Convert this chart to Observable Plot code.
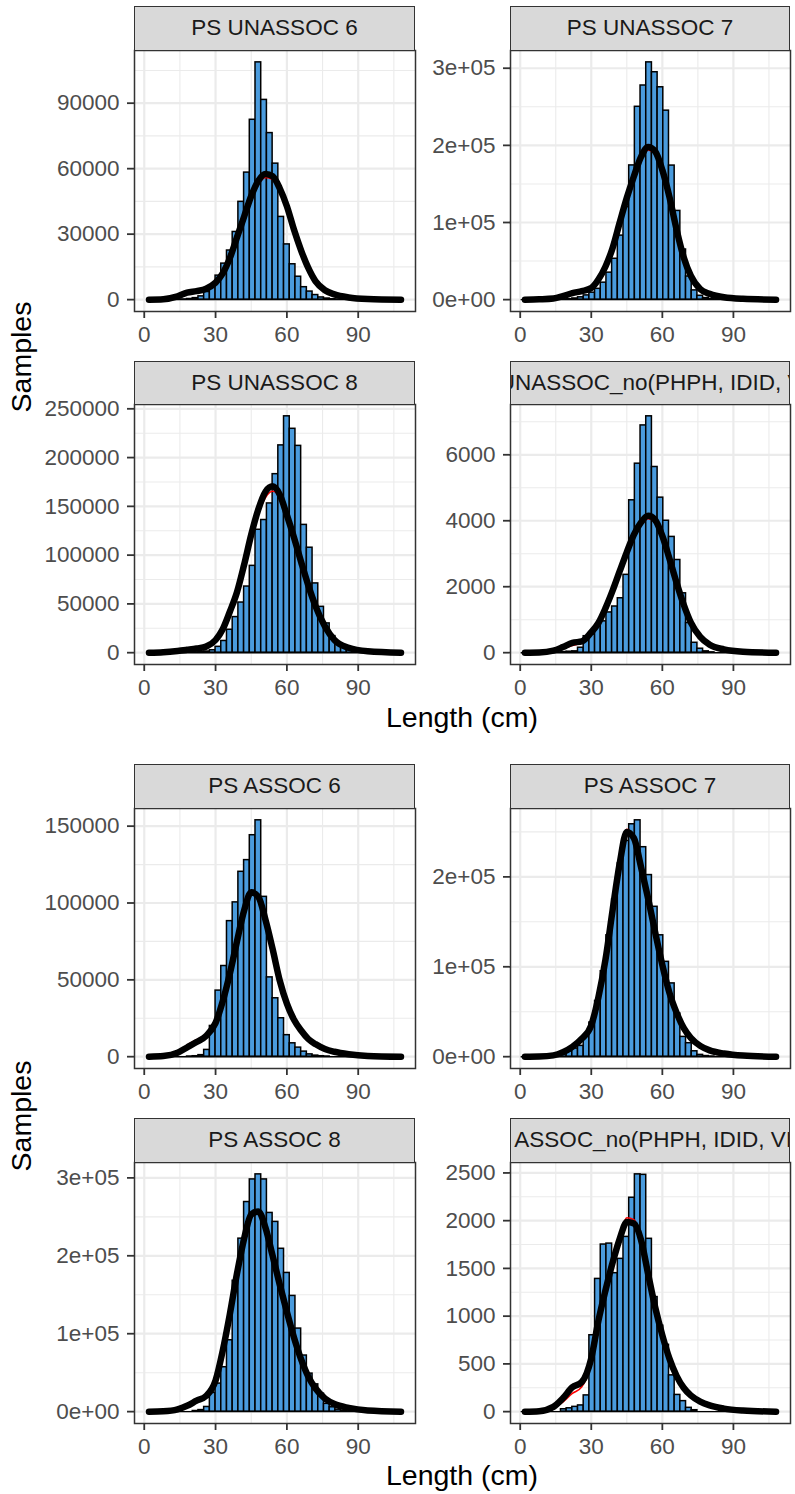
<!DOCTYPE html>
<html><head><meta charset="utf-8">
<script src="https://cdn.jsdelivr.net/npm/d3@7"></script>
<script src="https://cdn.jsdelivr.net/npm/@observablehq/plot@0.6"></script>
<style>
body{margin:0;background:#fff;}
#chart{position:relative;width:795px;height:1494px;background:#fff;font-family:'Liberation Sans',Arial,Helvetica,sans-serif;overflow:hidden}
.strip{position:absolute;box-sizing:border-box;background:#D9D9D9;border:1.5px solid #333;display:flex;align-items:center;justify-content:center;overflow:hidden;white-space:nowrap;font-size:22.5px;color:#1A1A1A}
.strip span{flex-shrink:0}
.title{position:absolute;font-size:28.5px;color:#000;white-space:nowrap;line-height:1}
</style></head><body><div id="chart"></div>
<script>
// ---------- data ----------
const stripNames = ["PS UNASSOC 6", "PS UNASSOC 7", "PS UNASSOC 8", "PS UNASSOC_no(PHPH, IDID, VIVI)",
                    "PS ASSOC 6", "PS ASSOC 7", "PS ASSOC 8", "PS ASSOC_no(PHPH, IDID, VIVI)"];
const binWidth = 2.4;
const binsLeft = [16.8, 19.2, 21.6, 24.0, 26.4, 28.8, 31.2, 33.6, 36.0, 38.4, 40.8, 43.2, 45.6, 48.0, 50.4, 52.8,
                  55.2, 57.6, 60.0, 62.4, 64.8, 67.2, 69.6, 72.0, 74.4, 76.8, 79.2, 81.6, 84.0, 86.4, 88.8, 91.2];
const binsRight = [16.0, 18.4, 20.8, 23.2, 25.6, 28.0, 30.4, 32.8, 35.2, 37.6, 40.0, 42.4, 44.8, 47.2, 49.6, 52.0,
                   54.4, 56.8, 59.2, 61.6, 64.0, 66.4, 68.8, 71.2, 73.6, 76.0, 78.4, 80.8, 83.2, 85.6, 88.0, 90.4];
const zeroSpanLeft = [1.2, 109.2];
const zeroSpanRight = [0.4, 108.4];

const countsU6 = [100, 300, 700, 1500, 3500, 6000, 11000, 16500, 22500, 31000, 44800, 58200, 82400, 108700, 91500, 76300,
                  62300, 37900, 25300, 16200, 10500, 5700, 3700, 2100, 1000, 500, 200, 100, 0, 0, 0, 0];
const countsU7 = [0, 200, 600, 1500, 3000, 5500, 9000, 14000, 22000, 35000, 53000, 83000, 120000, 174000, 250000, 277600,
                  307600, 294800, 275300, 245000, 173800, 115000, 65000, 30000, 12000, 5000, 2000, 700, 200, 0, 0, 0];
const countsU8 = [0, 100, 300, 600, 1200, 2500, 6000, 12000, 23500, 36500, 51400, 67800, 89000, 126000, 136000, 153000,
                  183000, 212500, 242300, 229500, 212000, 131000, 107600, 71000, 47000, 30000, 17000, 10000, 5000, 2500, 1000, 400];
const countsUno = [0, 20, 30, 40, 150, 500, 550, 800, 950, 1220, 1400, 1650, 2360, 4620, 5730, 6890,
                   7166, 5630, 4700, 4000, 3510, 2810, 1800, 900, 300, 120, 40, 10, 0, 0, 0, 0];
const countsA6 = [0, 100, 300, 1000, 4400, 20000, 43000, 59000, 88200, 100400, 120300, 127900, 144100, 153800, 104000, 51600,
                  38000, 25000, 14000, 8700, 5900, 3300, 1500, 700, 300, 100, 0, 0, 0, 0, 0, 0];
const countsA7 = [500, 3000, 6000, 9000, 12000, 24000, 38000, 62000, 95000, 135000, 175000, 215000, 240000, 258500, 262900, 233000,
                  202000, 166700, 135000, 105500, 81500, 48000, 22000, 15000, 6000, 2000, 700, 200, 0, 0, 0, 0];
const countsA8 = [0, 0, 800, 2000, 6000, 24000, 36000, 57000, 91600, 168000, 222000, 269000, 298000, 304500, 298000, 255000,
                  243500, 209000, 178000, 148500, 106600, 72000, 48800, 35000, 23000, 10000, 5600, 2500, 1000, 300, 0, 0];
const countsAno = [0, 25, 35, 50, 65, 170, 800, 1390, 1750, 1760, 1450, 1600, 1830, 2240, 2485, 2480,
                   1810, 1200, 900, 700, 380, 175, 110, 40, 15, 0, 0, 0, 0, 0, 0, 0];

const curveX = [2, 8, 14, 18, 22, 26, 30, 33, 36, 39, 42, 45, 48, 51, 54, 57, 60, 63, 66, 69, 72, 76, 80, 86, 94, 108];
const blackU6 = [0, 200, 1500, 3200, 3900, 5000, 7800, 12000, 19000, 28500, 38000, 47500, 54500, 57600, 56500, 51000, 42800, 32000, 22500, 14500, 8500, 4300, 2400, 1000, 300, 0];
const redU6   = [0, 200, 1700, 3600, 4300, 5300, 8300, 12800, 20000, 29500, 38500, 47000, 53000, 56000, 55000, 50000, 42500, 32500, 23200, 15200, 9000, 4700, 2600, 1100, 350, 0];
const blackU7 = [0, 500, 1500, 4500, 8500, 11000, 15000, 26000, 43000, 67000, 100000, 132000, 160000, 185000, 198000, 192000, 168000, 133000, 91000, 55000, 31000, 13500, 7500, 3000, 1000, 0];
const redU7   = [0, 600, 2000, 5500, 9500, 12500, 17000, 29000, 47000, 72000, 104000, 134000, 160000, 182000, 194000, 189000, 167000, 134000, 94000, 58000, 34000, 16000, 8500, 3500, 1200, 0];
const blackU8 = [0, 500, 1800, 3000, 4300, 6200, 13000, 24000, 42000, 62000, 90000, 121000, 147000, 165000, 170500, 162000, 141000, 118000, 93000, 69000, 48000, 27000, 13000, 5000, 1500, 0];
const redU8   = [0, 600, 2000, 3300, 4600, 6500, 13000, 23500, 41000, 61000, 88000, 117000, 142000, 159000, 165500, 160000, 142000, 120000, 96000, 72000, 51000, 29500, 15000, 6000, 1800, 0];
const blackUno = [0, 5, 60, 170, 300, 340, 620, 900, 1350, 1880, 2470, 3050, 3580, 3950, 4150, 4020, 3540, 2850, 2120, 1460, 920, 480, 240, 100, 30, 0];
const redUno   = [0, 5, 50, 120, 220, 300, 600, 900, 1350, 1900, 2500, 3080, 3560, 3900, 4060, 3960, 3540, 2900, 2200, 1530, 980, 520, 270, 110, 35, 0];
const blackA6 = [0, 400, 2500, 6000, 9500, 13500, 22000, 36000, 54000, 75000, 95000, 107000, 104000, 89000, 70000, 49500, 34500, 24000, 17000, 11500, 8200, 5000, 3200, 1600, 500, 0];
const redA6   = [0, 500, 3000, 7500, 11000, 14500, 22000, 35000, 53000, 74000, 94000, 106500, 105000, 90000, 71000, 51000, 36000, 25500, 18000, 12500, 9000, 5800, 3800, 1900, 600, 0];
const blackA7 = [0, 200, 1500, 5000, 11000, 20000, 35000, 66000, 108000, 163000, 215000, 250000, 243000, 211000, 176000, 138000, 102000, 71000, 49000, 32000, 21000, 12000, 7000, 3500, 1200, 0];
const redA7   = [0, 300, 2000, 6500, 13000, 22000, 37000, 67000, 108000, 163000, 217000, 253000, 244000, 211000, 176000, 139000, 104000, 74000, 51000, 34000, 23000, 13500, 8000, 4000, 1500, 0];
const blackA8 = [0, 500, 3000, 7500, 14000, 20000, 40000, 78000, 125000, 177000, 222000, 253000, 257000, 236000, 200000, 163000, 128000, 95000, 67000, 45000, 30000, 17000, 9800, 4800, 1500, 0];
const redA8   = [0, 600, 3500, 9000, 16000, 22000, 40000, 77000, 124000, 176000, 222000, 254000, 259000, 239000, 203000, 166000, 131000, 98000, 70000, 48000, 32000, 19000, 11000, 5500, 1800, 0];
const blackAno = [0, 5, 50, 140, 255, 310, 560, 950, 1270, 1560, 1810, 1985, 1970, 1800, 1440, 1090, 800, 555, 375, 250, 170, 105, 65, 32, 12, 0];
const redAno   = [0, 5, 40, 100, 190, 260, 500, 900, 1250, 1570, 1840, 2030, 2010, 1830, 1470, 1120, 830, 585, 400, 270, 185, 115, 72, 36, 14, 0];

const xDomain = [-4.1, 114.1];
const xMajor = [0, 30, 60, 90];
const xLabels = ["0", "30", "60", "90"];
const xMinor = [15, 45, 75, 105];

const ticksU6 = [0, 30000, 60000, 90000], labelsU6 = ["0", "30000", "60000", "90000"], minorU6 = [15000, 45000, 75000, 105000];
const ticksU7 = [0, 100000, 200000, 300000], labelsU7 = ["0e+00", "1e+05", "2e+05", "3e+05"], minorU7 = [50000, 150000, 250000];
const ticksU8 = [0, 50000, 100000, 150000, 200000, 250000], labelsU8 = ["0", "50000", "100000", "150000", "200000", "250000"], minorU8 = [25000, 75000, 125000, 175000, 225000];
const ticksUno = [0, 2000, 4000, 6000], labelsUno = ["0", "2000", "4000", "6000"], minorUno = [1000, 3000, 5000, 7000];
const ticksA6 = [0, 50000, 100000, 150000], labelsA6 = ["0", "50000", "100000", "150000"], minorA6 = [25000, 75000, 125000];
const ticksA7 = [0, 100000, 200000], labelsA7 = ["0e+00", "1e+05", "2e+05"], minorA7 = [50000, 150000, 250000];
const ticksA8 = [0, 100000, 200000, 300000], labelsA8 = ["0e+00", "1e+05", "2e+05", "3e+05"], minorA8 = [50000, 150000, 250000];
const ticksAno = [0, 500, 1000, 1500, 2000, 2500], labelsAno = ["0", "500", "1000", "1500", "2000", "2500"], minorAno = [250, 750, 1250, 1750, 2250];

// ---------- layout ----------
const L = {left: 134, right: 415}, R = {left: 510, right: 790};
const panels = [
  {name: stripNames[0], ...L, stripTop: 6,    top: 50,   h: 261, bins: binsLeft,  zero: zeroSpanLeft,  counts: countsU6,  black: blackU6,  red: redU6,  ticks: ticksU6,  labels: labelsU6,  minor: minorU6},
  {name: stripNames[1], ...R, stripTop: 6,    top: 50,   h: 261, bins: binsRight, zero: zeroSpanRight, counts: countsU7,  black: blackU7,  red: redU7,  ticks: ticksU7,  labels: labelsU7,  minor: minorU7},
  {name: stripNames[2], ...L, stripTop: 361,  top: 404,  h: 260, bins: binsLeft,  zero: zeroSpanLeft,  counts: countsU8,  black: blackU8,  red: redU8,  ticks: ticksU8,  labels: labelsU8,  minor: minorU8},
  {name: stripNames[3], ...R, stripTop: 361,  top: 404,  h: 260, bins: binsRight, zero: zeroSpanRight, counts: countsUno, black: blackUno, red: redUno, ticks: ticksUno, labels: labelsUno, minor: minorUno},
  {name: stripNames[4], ...L, stripTop: 764,  top: 808,  h: 260, bins: binsLeft,  zero: zeroSpanLeft,  counts: countsA6,  black: blackA6,  red: redA6,  ticks: ticksA6,  labels: labelsA6,  minor: minorA6},
  {name: stripNames[5], ...R, stripTop: 764,  top: 808,  h: 260, bins: binsRight, zero: zeroSpanRight, counts: countsA7,  black: blackA7,  red: redA7,  ticks: ticksA7,  labels: labelsA7,  minor: minorA7},
  {name: stripNames[6], ...L, stripTop: 1118, top: 1162, h: 261, bins: binsLeft,  zero: zeroSpanLeft,  counts: countsA8,  black: blackA8,  red: redA8,  ticks: ticksA8,  labels: labelsA8,  minor: minorA8},
  {name: stripNames[7], ...R, stripTop: 1118, top: 1162, h: 261, bins: binsRight, zero: zeroSpanRight, counts: countsAno, black: blackAno, red: redAno, ticks: ticksAno, labels: labelsAno, minor: minorAno}
];

const FONT = "'Liberation Sans', Arial, Helvetica, sans-serif";
const chart = document.getElementById("chart");
const barFill = "#4A9BDD";

panels.forEach(p => {
  const ML = 130, MB = 50, W = p.right - p.left;
  const M = d3.max(p.counts);
  const bars = p.bins.map((c, i) => ({c, n: p.counts[i]})).filter(d => d.n > 0);
  const blk = curveX.map((x, i) => ({x, y: p.black[i]}));
  const red = curveX.map((x, i) => ({x, y: p.red[i]}));
  const grid = {stroke: "#EBEBEB", strokeOpacity: 1};
  const svg = Plot.plot({
    width: ML + W, height: p.h + MB,
    marginLeft: ML, marginRight: 0, marginTop: 0, marginBottom: MB,
    style: `font-family:${FONT};font-size:22.5px;background:transparent;overflow:visible;`,
    x: {domain: xDomain, range: [ML, ML + W]},
    y: {domain: [-0.05 * M, 1.05 * M], range: [p.h, 0]},
    marks: [
      Plot.gridX(xMinor, {...grid, strokeWidth: 1.1}),
      Plot.gridY(p.minor, {...grid, strokeWidth: 1.1}),
      Plot.gridX(xMajor, {...grid, strokeWidth: 2.2}),
      Plot.gridY(p.ticks, {...grid, strokeWidth: 2.2}),
      Plot.ruleY([{y: 0, a: p.zero[0], b: p.zero[1]}], {y: "y", x1: "a", x2: "b", stroke: "black", strokeWidth: 1.4}),
      Plot.rect(bars, {x1: d => d.c - binWidth / 2, x2: d => d.c + binWidth / 2, y1: 0, y2: "n",
                       fill: barFill, stroke: "black", strokeWidth: 1.5}),
      Plot.line(red, {x: "x", y: "y", stroke: "#FF0000", strokeWidth: 1.6, curve: "monotone-x"}),
      Plot.line(blk, {x: "x", y: "y", stroke: "black", strokeWidth: 6.5, curve: "monotone-x"}),
      Plot.frame({stroke: "#333333", strokeWidth: 1.5}),
      Plot.axisY({ticks: p.ticks, tickFormat: d => p.labels[p.ticks.indexOf(d)], tickSize: 7, tickPadding: 8,
                  stroke: "#333333", strokeWidth: 1.8, fill: "#4D4D4D", fontSize: 22.5, fontFamily: FONT, label: null}),
      Plot.axisX({ticks: xMajor, tickFormat: d => xLabels[xMajor.indexOf(d)], tickSize: 7, tickPadding: 8,
                  stroke: "#333333", strokeWidth: 1.8, fill: "#4D4D4D", fontSize: 22.5, fontFamily: FONT, label: null})
    ]
  });
  const wrap = document.createElement("div");
  wrap.style.cssText = `position:absolute;left:${p.left - ML}px;top:${p.top}px;width:${ML + W}px;height:${p.h + MB}px;`;
  wrap.appendChild(svg);
  chart.appendChild(wrap);

  const s = document.createElement("div");
  s.className = "strip";
  s.style.cssText = `left:${p.left}px;top:${p.stripTop}px;width:${W}px;height:${p.top - p.stripTop + 0.75}px;`;
  const sp = document.createElement("span");
  sp.textContent = p.name;
  s.appendChild(sp);
  chart.appendChild(s);
});

// axis titles
function addTitle(text, x, y, rotate) {
  const d = document.createElement("div");
  d.className = "title";
  d.textContent = text;
  if (rotate) {
    d.style.cssText += `left:${x}px;top:${y}px;transform:translate(-50%,-50%) rotate(-90deg);`;
  } else {
    d.style.cssText += `left:${x}px;top:${y}px;transform:translateX(-50%);`;
  }
  chart.appendChild(d);
}
addTitle("Length (cm)", 462, 703, false);
addTitle("Length (cm)", 462, 1461, false);
addTitle("Samples", 21, 357, true);
addTitle("Samples", 21, 1116, true);
</script></body></html>
